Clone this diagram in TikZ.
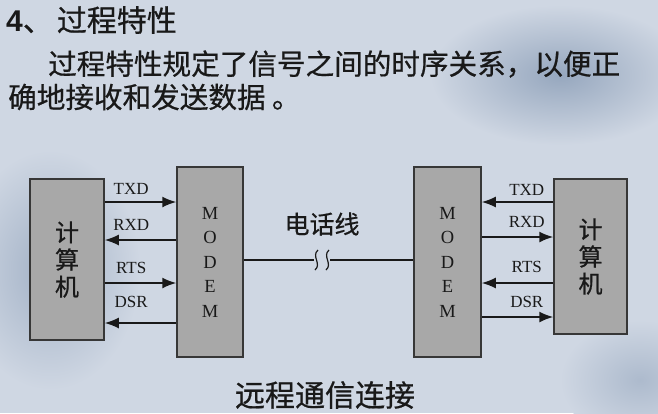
\documentclass[tikz,border=0pt]{standalone}
\usepackage{fontspec}
\setmainfont{Liberation Serif}
\setsansfont{Liberation Sans}
\newfontfamily\cjk{Noto Sans CJK SC}[FakeBold=0.6]
\usetikzlibrary{arrows.meta,positioning,calc}
\definecolor{slidebg}{RGB}{207,215,227}
\definecolor{smudge}{RGB}{150,167,190}
\definecolor{boxgray}{RGB}{168,168,168}
\definecolor{boxline}{RGB}{55,55,55}
\definecolor{ink}{RGB}{25,25,25}

\begin{document}
\begin{tikzpicture}[
    x=1pt, y=-1pt,
    pc/.style={rectangle, draw=boxline, fill=boxgray, line width=1.5pt,
               minimum width=74pt, inner sep=0pt, align=center,
               font=\cjk\fontsize{24}{28}\selectfont, text=ink},
    modem/.style={rectangle, draw=boxline, fill=boxgray, line width=1.5pt,
               minimum width=66pt, minimum height=190pt, inner sep=0pt, align=center,
               font=\fontsize{18.5}{24.5}\selectfont, text=ink},
    arrow/.style={-{Latex[length=14pt,width=11pt]}, line width=1.6pt, ink},
    rarrow/.style={{Latex[length=14pt,width=11pt]}-, line width=1.6pt, ink},
    sig/.style={above=#1, inner sep=0pt, pos=0.37,
                font=\fontsize{17}{17}\selectfont, text=ink},
    sig/.default=9pt,
    wire/.style={line width=1.2pt, ink},
    txt/.style={anchor=west, inner sep=0pt, font=\cjk\fontsize{28.6}{28.6}\selectfont, text=ink}
]
    % slide background
    \useasboundingbox (0,0) rectangle (658,413);
    \fill[slidebg] (0,0) rectangle (658,413);
    \shade[inner color=smudge, outer color=slidebg] (560,75) ellipse (130pt and 70pt);
    \shade[inner color=smudge!80!slidebg, outer color=slidebg] (50,270) ellipse (90pt and 120pt);
    \shade[inner color=smudge!60!slidebg, outer color=slidebg] (640,380) ellipse (80pt and 60pt);

    % heading and text
    \node[txt, font=\cjk\fontsize{30}{30}\selectfont] (title) at (6,20)
        {{\sffamily\bfseries\fontsize{30}{30}\selectfont 4}、\hspace{4pt}过程特性};
    \node[txt] (intro1) at (48,64) {过程特性规定了信号之间的时序关系，以便正};
    \node[txt] (intro2) at (8,97) {确地接收和发送数据 。};

    % boxes
    \node[pc, minimum height=161pt] (lpc) at (67,259.5) {\raisebox{-5pt}{\shortstack{计\\[2pt]算\\[2pt]机}}};
    \node[modem] (lmodem) at (210,262) {M\\O\\D\\E\\M};
    \node[modem, minimum width=67pt] (rmodem) at (447.5,262) {M\\O\\D\\E\\M};
    \node[pc, minimum width=73pt, minimum height=155pt] (rpc) at (590.5,256.5) {\raisebox{-4pt}{\shortstack{计\\[2pt]算\\[2pt]机}}};

    % left side signals
    \draw[arrow] (lpc.east |- 0,202) -- node[sig=7pt] {TXD} (lmodem.west |- 0,202);
    \draw[rarrow] (lpc.east |- 0,240) -- node[sig] {RXD} (lmodem.west |- 0,240);
    \draw[arrow] (lpc.east |- 0,283) -- node[sig] {RTS} (lmodem.west |- 0,283);
    \draw[rarrow] (lpc.east |- 0,323) -- node[sig=15pt] {DSR} (lmodem.west |- 0,323);

    % right side signals
    \draw[arrow] (rpc.west |- 0,202) -- node[sig=6pt] {TXD} (rmodem.east |- 0,202);
    \draw[rarrow] (rpc.west |- 0,237) -- node[sig=8.5pt] {RXD} (rmodem.east |- 0,237);
    \draw[arrow] (rpc.west |- 0,283) -- node[sig=10pt] {RTS} (rmodem.east |- 0,283);
    \draw[rarrow] (rpc.west |- 0,317) -- node[sig=8.5pt] {DSR} (rmodem.east |- 0,317);

    % telephone line with break
    \coordinate (brkL) at (314,260);
    \coordinate (brkR) at (330,260);
    \draw[wire] (lmodem.east |- brkL) -- (brkL);
    \draw[wire] (brkR) -- (rmodem.west |- brkR);
    \draw[wire] (318,250) .. controls (311,256) and (322,264) .. (315,270);
    \draw[wire] (329,250) .. controls (322,256) and (333,264) .. (326,270);
    \node[font=\cjk\fontsize{25}{25}\selectfont, text=ink] (phone) at (322,224) {电话线};

    \node[font=\cjk\fontsize{30}{30}\selectfont, text=ink] (caption) at (325,395) {远程通信连接};
\end{tikzpicture}
\end{document}
